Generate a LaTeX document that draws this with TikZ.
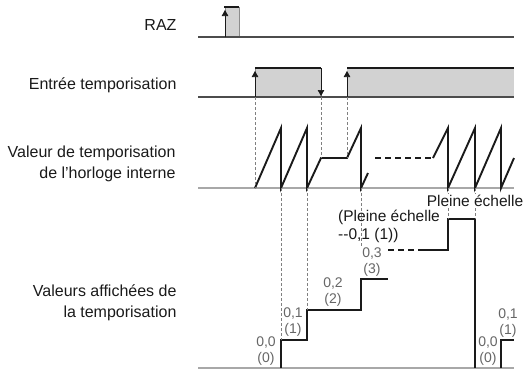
\documentclass[tikz,border=0pt]{standalone}
\usepackage{fontspec}
\setmainfont{Liberation Sans}
\usepackage{xcolor}
\usetikzlibrary{arrows.meta, positioning, calc}
\definecolor{encre}{HTML}{1A1A1A}
\definecolor{grisfond}{HTML}{D2D2D2}
\definecolor{grisligne}{HTML}{A8A8A8}
\definecolor{grisvaleur}{HTML}{666666}

\begin{document}
\begin{tikzpicture}[x=1pt, y=-1pt,
    etiquette/.style={anchor=east, align=right, text=encre,
                      font=\fontsize{16}{21}\selectfont},
    valeur/.style={align=center, text=grisvaleur, inner sep=0pt,
                   font=\fontsize{14}{15.5}\selectfont},
    echelle/.style={align=left, text=encre, inner sep=1pt,
                    font=\fontsize{15.5}{18}\selectfont},
    base/.style={draw=black!70, line width=1.5pt},
    basegris/.style={draw=grisligne, line width=2.4pt},
    impulsion/.style={fill=grisfond, draw=black!45, line width=0.6pt},
    haut/.style={draw=encre, line width=2.8pt},
    signal/.style={draw=encre, line width=1.9pt, line join=miter},
    fleche/.style={-{Triangle[length=6pt, width=6.5pt]}, line width=0.7pt, encre},
    repere/.style={draw=black!50, line width=0.6pt, dash pattern=on 3pt off 2pt},
    pointille/.style={signal, dash pattern=on 6pt off 4pt}
]
    \useasboundingbox (0,0) rectangle (527,370);

    % libelles des lignes
    \node[etiquette] (raz) at (180,25) {RAZ};
    \node[etiquette] (entree) at (180,85) {Entrée temporisation};
    \node[etiquette] (horloge) at (179,163.5) {Valeur de temporisation\\de l’horloge interne};
    \node[etiquette] (affiche) at (180,303) {Valeurs affichées de\\la temporisation};

    % RAZ
    \coordinate (r0) at (225,37);
    \coordinate (r1) at (239,37);
    \path[impulsion] (r0) rectangle (239,7);
    \draw[haut] (224,7) -- (239,7);
    \draw[base] (198,37) -- (514,37);
    \draw[fleche] (r0) -- (225,10);

    % entree temporisation
    \coordinate (e0) at (255,97);
    \coordinate (e1) at (321,97);
    \coordinate (e2) at (347,97);
    \path[impulsion] (e0) rectangle (321,68);
    \fill[grisfond] (e2) rectangle (514,68);
    \draw[haut] (255,68) -- (321,68);
    \draw[haut] (347,68) -- (514,68);
    \draw[base] (198,97) -- (514,97);
    \draw[fleche] (e0) -- (255,71);
    \draw[fleche] (321,68) -- (321,96);
    \draw[fleche] (e2) -- (347,71);

    % horloge interne
    \coordinate (h0) at (255,188);
    \coordinate (h1) at (281,188);
    \coordinate (h2) at (307,188);
    \coordinate (h3) at (321,158);
    \coordinate (h4) at (347,158);
    \coordinate (h5) at (361,188);
    \coordinate (h6) at (448,188);
    \coordinate (h7) at (475,188);
    \draw[basegris] (198,188) -- (514,188);
    \draw[signal] (h0) -- (281,128) -- (h1) -- (307,128) -- (h2) -- (h3)
        -- (h4) -- (361,128) -- (h5) -- (368,173);
    \draw[pointille] (375,158) -- (433,158);
    \draw[signal] (433,158) -- (448,128) -- (h6) -- (475,128) -- (h7)
        -- (501,128) -- (501,188) -- (514,158);

    % valeurs affichees
    \coordinate (a1) at (281,340);
    \coordinate (a2) at (307,310);
    \coordinate (a3) at (361,246);
    \coordinate (a4) at (448,219);
    \coordinate (a5) at (475,219);
    \draw[basegris] (198,368) -- (514,368);
    \draw[signal] (281,368) -- (a1) -- (307,340) -- (a2) -- (361,310)
        -- (361,279) -- (388,279);
    \draw[pointille] (388,250) -- (420,250);
    \draw[signal] (420,250) -- (448,250) -- (a4) -- (a5) -- (475,368);
    \draw[signal] (501,368) -- (501,340) -- (514,340);

    % reperes
    \draw[repere] (e0) -- (h0);
    \draw[repere] (e1) -- (h3);
    \draw[repere] (e2) -- (h4);
    \draw[repere] (h1) -- (a1);
    \draw[repere] (h2) -- (a2);
    \draw[repere] (h5) -- (a3);
    \draw[repere] (h6) -- (a4);
    \draw[repere] (h7) -- (a5);

    % valeurs
    \node[valeur] (v0) at (266,351) {0,0\\(0)};
    \node[valeur] (v1) at (293,322) {0,1\\(1)};
    \node[valeur] (v2) at (333,292) {0,2\\(2)};
    \node[valeur] (v3) at (372,262) {0,3\\(3)};
    \node[valeur] (w0) at (488,351) {0,0\\(0)};
    \node[valeur] (w1) at (508,323) {0,1\\(1)};
    \node[echelle, anchor=west] (moins) at (337,226) {(Pleine échelle\\-{}-0,1 (1))};
    \node[echelle, fill=white] (pleine) at (475,201) {Pleine échelle};
\end{tikzpicture}
\end{document}
